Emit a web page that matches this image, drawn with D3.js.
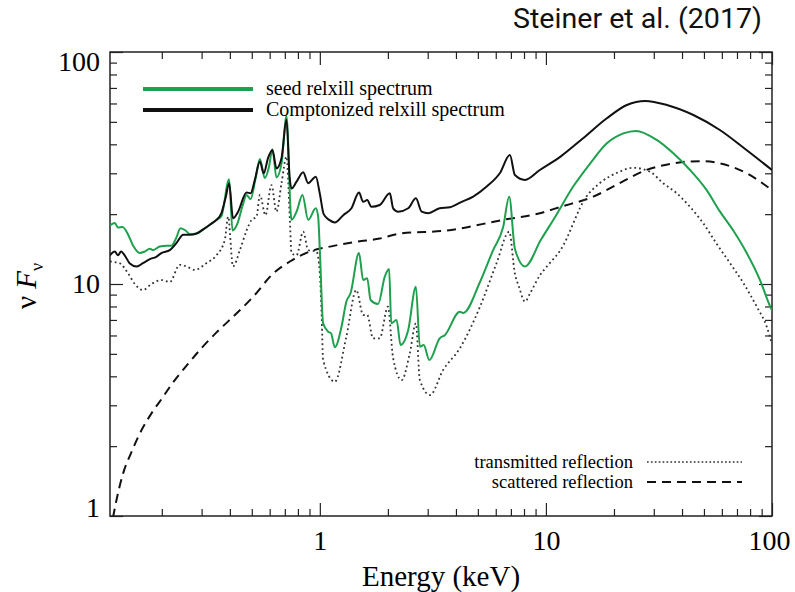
<!DOCTYPE html>
<html><head><meta charset="utf-8">
<script src="https://cdn.jsdelivr.net/npm/d3@7/dist/d3.min.js"></script>
<style>body{margin:0;background:#fff;} svg{display:block;}</style>
</head><body>
<svg id="c" width="795" height="592"></svg>
<script>
// ---- data (energy keV, nuFnu) ----
const comptE = [0.118,0.124,0.128,0.132,0.137,0.144,0.155,0.165,0.177,0.189,0.199,0.217,0.232,0.249,0.266,0.285,0.305,0.326,0.349,0.367,0.384,0.397,0.413,0.435,0.474,0.494,0.516,0.543,0.565,0.590,0.617,0.643,0.677,0.712,0.735,0.749,0.789,0.844,0.888,0.96,1.0,1.04,1.1,1.165,1.27,1.38,1.49,1.555,1.62,1.69,1.84,2.04,2.11,2.22,2.46,2.66,2.82,3.02,3.39,3.76,4.24,4.77,5.47,6.25,6.93,7.29,8.08,9.4,11.6,14.6,18.6,22.8,27.5,34.3,44.9,58.8,77.1,100];
const comptF = [13.3,13.8,13.3,13.8,13.3,12.3,11.9,12.3,12.8,13.1,13.6,14.0,15.0,16.3,16.3,16.5,17.2,18.0,18.9,20.2,23.8,27.2,19.2,20.5,24.8,24.6,28.1,33.7,30.0,34.9,37.8,31.5,34.9,51.0,29.0,25.8,27.6,30.3,27.2,29.0,24.5,20.0,18.9,18.4,19.8,21.2,24.8,22.6,23.0,21.5,21.9,24.6,21.2,20.5,21.2,23.4,20.5,20.2,21.2,21.4,22.6,23.8,26.3,30.0,36.0,29.5,28.1,31.0,35.4,42.5,51.8,59.1,61.5,59.1,53.5,46.1,37.8,31.0];

const seedE = [0.118,0.124,0.128,0.134,0.142,0.149,0.16,0.168,0.177,0.183,0.196,0.21,0.22,0.231,0.242,0.255,0.266,0.285,0.305,0.326,0.349,0.367,0.397,0.411,0.431,0.455,0.474,0.494,0.52,0.543,0.571,0.595,0.617,0.643,0.677,0.712,0.749,0.789,0.838,0.888,0.96,0.983,1.0,1.034,1.088,1.12,1.165,1.247,1.31,1.367,1.49,1.555,1.62,1.677,1.81,1.94,2.025,2.07,2.185,2.275,2.46,2.66,2.77,2.88,3.05,3.39,3.57,4.16,4.31,5.11,5.84,6.47,6.88,7.29,8.08,9.5,11.1,13.2,15.7,18.6,22.0,25.0,30.9,36.6,43.4,51.4,58.9,67.4,77.3,88.5,99.0,100];
const seedF = [17.9,18.3,17.5,17.6,16.3,14.7,13.6,13.8,14.2,14.0,14.5,14.6,14.6,15.7,17.4,17.0,16.4,16.5,17.2,18.0,18.9,19.6,28.3,17.0,18.1,21.7,24.2,23.2,28.6,34.6,28.6,31.8,38.1,28.8,33.1,53.0,18.9,20.5,24.2,18.9,21.2,19.5,14.0,6.77,6.23,6.14,5.34,6.54,8.39,9.12,13.6,10.4,10.6,8.53,8.2,10.8,11.6,6.77,7.0,5.46,6.34,9.73,5.37,5.46,4.7,5.83,6.02,7.6,7.5,10.2,14.0,17.6,23.8,14.2,11.9,15.5,19.8,26.3,33.1,40.4,44.6,45.7,41.8,36.6,31.0,25.4,20.5,17.0,13.6,10.4,7.85,7.7];

const transE = [0.118,0.130,0.142,0.152,0.165,0.18,0.199,0.217,0.24,0.257,0.28,0.315,0.349,0.38,0.393,0.413,0.443,0.474,0.499,0.525,0.543,0.575,0.611,0.643,0.677,0.712,0.737,0.749,0.789,0.844,0.888,0.967,1.0,1.02,1.034,1.165,1.31,1.45,1.555,1.62,1.72,1.84,2.0,2.11,2.3,2.5,2.66,2.77,3.07,3.51,4.16,5.11,6.05,6.88,7.29,7.6,8.08,8.5,9.4,10.1,11.6,15.1,17.3,21.2,24.3,28.8,33.0,37.9,43.4,49.6,56.9,65.2,74.7,85.5,94.8,100];
const transF = [12.5,12.3,11.1,10.0,9.42,10.0,10.4,10.2,12.1,11.9,11.5,12.3,13.3,15.5,19.5,11.9,14.0,17.0,18.9,19.5,24.2,19.8,26.7,20.5,27.2,35.4,18.9,13.6,13.3,16.8,14.0,13.8,11.1,7.0,4.7,3.79,5.93,9.42,7.35,7.35,5.83,5.83,7.98,4.78,3.85,5.03,6.77,3.85,3.32,4.26,5.28,7.98,12.3,16.8,11.1,9.73,8.39,9.1,10.9,11.9,14.0,23.8,27.2,30.5,31.7,30.5,27.2,24.6,21.5,18.3,14.9,12.3,10.1,8.0,6.54,5.5];

const scatE = [0.118,0.122,0.126,0.135,0.147,0.16,0.18,0.203,0.22,0.26,0.30,0.35,0.421,0.507,0.622,0.737,0.903,1.15,1.45,1.84,2.26,3.63,6.47,9.4,11.6,16.2,21.2,27.8,36.6,42.0,49.6,58.9,77.3,100];
const scatF = [0.85,1.0,1.17,1.53,1.89,2.27,2.77,3.27,3.67,4.5,5.3,6.2,7.35,8.81,11.1,12.5,13.8,14.6,15.2,15.7,16.5,17.0,18.9,20.2,21.5,23.8,27.2,31.0,33.1,33.7,33.8,33.1,30.0,25.4];

const xTickLabels = [1,10,100];
const yTickLabels = [1,10,100];
const legendTop = ["seed relxill spectrum","Comptonized relxill spectrum"];
const legendBottom = ["transmitted reflection","scattered reflection"];
const titleText = "Steiner et al. (2017)";

// ---- layout ----
const L=110, R=772, T=52, B=516;
const svg = d3.select("#c");
const x = d3.scaleLog().domain([0.118,100]).range([L,R]);
const y = d3.scaleLog().domain([1,100]).range([B,T]);
const serif = "'Liberation Serif','Times New Roman',serif";
const green = "#1fa04e";

svg.append("defs").append("clipPath").attr("id","clip")
  .append("rect").attr("x",L).attr("y",T).attr("width",R-L).attr("height",B-T);

function minorVals(lo,hi){const v=[];for(let d=-1;d<2;d++){for(let m=1;m<10;m++){const t=m*Math.pow(10,d);if(t>=lo&&t<=hi&&m!==1)v.push(t);}}return v;}
const xMinor = minorVals(0.118,100);
const yMinor = minorVals(1,100);

function styleAxis(g){g.select(".domain").remove();g.selectAll("line").attr("stroke","#222").attr("stroke-width",1.2);}

// minor ticks
svg.append("g").attr("transform",`translate(0,${B})`).call(d3.axisBottom(x).tickValues(xMinor).tickSize(-7).tickFormat("")).call(styleAxis);
svg.append("g").attr("transform",`translate(0,${T})`).call(d3.axisTop(x).tickValues(xMinor).tickSize(-7).tickFormat("")).call(styleAxis);
svg.append("g").attr("transform",`translate(${L},0)`).call(d3.axisLeft(y).tickValues(yMinor).tickSize(-7).tickFormat("")).call(styleAxis);
svg.append("g").attr("transform",`translate(${R},0)`).call(d3.axisRight(y).tickValues(yMinor).tickSize(-7).tickFormat("")).call(styleAxis);
// major ticks
const xb = svg.append("g").attr("transform",`translate(0,${B})`)
  .call(d3.axisBottom(x).tickValues(xTickLabels).tickSize(-13).tickPadding(14).tickFormat(d3.format("d"))).call(styleAxis);
xb.selectAll("text").attr("font-family",serif).attr("font-size",28).attr("fill","#000").attr("dy","0.71em")
  .attr("dx",d=>d===100?-3:0);
svg.append("g").attr("transform",`translate(0,${T})`).call(d3.axisTop(x).tickValues(xTickLabels).tickSize(-13).tickFormat("")).call(styleAxis);
const yl = svg.append("g").attr("transform",`translate(${L},0)`)
  .call(d3.axisLeft(y).tickValues(yTickLabels).tickSize(-13).tickPadding(10).tickFormat(d3.format("d"))).call(styleAxis);
yl.selectAll("text").attr("font-family",serif).attr("font-size",28).attr("fill","#000")
  .attr("dy",d=>d===100?"0.67em":(d===1?"0.02em":"0.32em"));
svg.append("g").attr("transform",`translate(${R},0)`).call(d3.axisRight(y).tickValues(yTickLabels).tickSize(-13).tickFormat("")).call(styleAxis);

// frame
svg.append("rect").attr("x",L).attr("y",T).attr("width",R-L).attr("height",B-T)
  .attr("fill","none").attr("stroke","#222").attr("stroke-width",1.5);

// lines
const line = d3.line().x(d=>x(d[0])).y(d=>y(d[1])).curve(d3.curveMonotoneX);
const plot = svg.append("g").attr("clip-path","url(#clip)");
const zip=(a,b)=>a.map((v,i)=>[v,b[i]]);
plot.append("path").attr("d",line(zip(scatE,scatF))).attr("fill","none").attr("stroke","#111").attr("stroke-width",2).attr("stroke-dasharray","9 6");
plot.append("path").attr("d",line(zip(transE,transF))).attr("fill","none").attr("stroke","#333").attr("stroke-width",1.8).attr("stroke-dasharray","1.8 3");
plot.append("path").attr("d",line(zip(seedE,seedF))).attr("fill","none").attr("stroke",green).attr("stroke-width",2);
plot.append("path").attr("d",line(zip(comptE,comptF))).attr("fill","none").attr("stroke","#111").attr("stroke-width",2);

// top legend
const lgT = [{c:green},{c:"#111"}];
legendTop.forEach((t,i)=>{
  const yy = 89 + i*21;
  svg.append("line").attr("x1",143).attr("x2",253).attr("y1",yy).attr("y2",yy).attr("stroke",lgT[i].c).attr("stroke-width",4);
  svg.append("text").attr("x",266).attr("y",yy+6).attr("font-family",serif).attr("font-size",20).attr("fill","#000").text(t);
});
// bottom legend
const lgB = [{d:"1.7 2.2",w:1.7,c:"#333"},{d:"9 6",w:2,c:"#111"}];
legendBottom.forEach((t,i)=>{
  const yy = 462 + i*20;
  svg.append("text").attr("x",633).attr("y",yy+6).attr("text-anchor","end").attr("font-family",serif).attr("font-size",18.5).attr("fill","#000").text(t);
  svg.append("line").attr("x1",647).attr("x2",742).attr("y1",yy).attr("y2",yy).attr("stroke",lgB[i].c).attr("stroke-width",lgB[i].w).attr("stroke-dasharray",lgB[i].d);
});

// axis titles
svg.append("text").attr("x",(L+R)/2).attr("y",586).attr("text-anchor","middle").attr("font-family",serif).attr("font-size",29).attr("fill","#000").text("Energy (keV)");
const yt = svg.append("text").attr("transform","translate(36,286) rotate(-90)").attr("text-anchor","middle").attr("font-family",serif).attr("font-size",29).attr("fill","#000");
yt.append("tspan").text("ν ");
yt.append("tspan").attr("font-style","italic").text("F");
yt.append("tspan").attr("font-size",18).attr("dy",7).text("ν");

// title
svg.append("text").attr("x",762).attr("y",28).attr("text-anchor","end").attr("font-family","Roboto,'Liberation Sans',sans-serif").attr("font-size",28)
  .attr("textLength",249).attr("lengthAdjust","spacingAndGlyphs").attr("fill","#111").text(titleText);
</script>
</body></html>
